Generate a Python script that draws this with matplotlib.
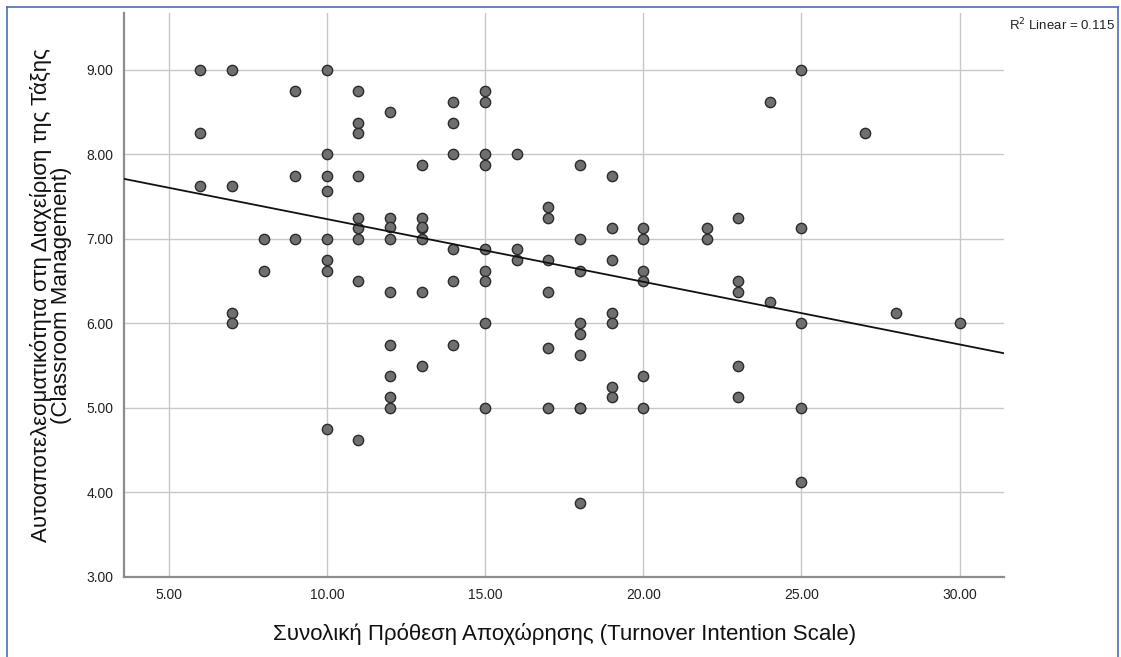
import numpy as np
import matplotlib
matplotlib.use("Agg")
import matplotlib.pyplot as plt
from matplotlib.lines import Line2D

# Turnover intention (x) vs classroom-management self-efficacy (y)
turnover = [6, 7, 10, 9, 11, 12, 11, 11, 6, 10,
            9, 10, 11, 6, 7, 10,
            11, 11, 11, 12, 12, 12, 8, 9, 10, 10, 10, 8, 11, 12,
            15, 15, 14, 14, 14, 15, 15, 16, 13, 18, 19, 17, 17, 13, 13, 13,
            13, 19, 20, 20, 22, 22, 18, 14, 15, 16, 16, 17, 19, 15, 18, 20,
            20, 15, 14, 13, 17,
            25, 24, 27, 23, 25, 23, 23, 24, 28, 25, 30, 23, 23, 25, 25,
            7, 7, 10, 11, 12, 12, 12, 12,
            15, 18, 18, 18, 19, 19, 14, 17, 13, 20, 19, 19, 15, 17, 18, 18, 20, 18]
efficacy = [9.0, 9.0, 9.0, 8.75, 8.75, 8.5, 8.375, 8.25, 8.25, 8.0,
            7.75, 7.75, 7.75, 7.625, 7.625, 7.57,
            7.25, 7.125, 7.0, 7.25, 7.14, 7.0, 7.0, 7.0, 7.0, 6.75, 6.625, 6.625, 6.5, 6.375,
            8.75, 8.625, 8.625, 8.375, 8.0, 8.0, 7.875, 8.0, 7.875, 7.875, 7.75, 7.375, 7.25, 7.25, 7.125, 7.14,
            7.0, 7.125, 7.125, 7.0, 7.125, 7.0, 7.0, 6.875, 6.875, 6.875, 6.75, 6.75, 6.75, 6.625, 6.625, 6.625,
            6.5, 6.5, 6.5, 6.375, 6.375,
            9.0, 8.625, 8.25, 7.25, 7.125, 6.5, 6.375, 6.25, 6.125, 6.0, 6.0, 5.5, 5.125, 5.0, 4.125,
            6.125, 6.0, 4.75, 4.625, 5.75, 5.375, 5.125, 5.0,
            6.0, 6.0, 5.875, 5.625, 6.125, 6.0, 5.75, 5.71, 5.5, 5.375, 5.25, 5.125, 5.0, 5.0, 5.0, 3.875, 5.0, 5.0]

# fit line as drawn by SPSS (some points overlap in the picture, so read it off directly)
fit_slope = -0.0742
fit_intercept = 7.977

xticks = [5, 10, 15, 20, 25, 30]
yticks = [3, 4, 5, 6, 7, 8, 9]

plt.rcParams['font.family'] = ['Liberation Sans', 'DejaVu Sans']

fig = plt.figure(figsize=(11.21, 6.57), dpi=100)
ax = fig.add_axes([0.1109, 0.1218, 0.7847, 0.858])

ax.scatter(turnover, efficacy, s=55, facecolor='#6f6f6f', edgecolor='#2b2b2b', linewidth=1.0, zorder=3)

xl = np.array([3.6, 31.4])
ax.plot(xl, fit_intercept + fit_slope * xl, color='#111111', lw=1.3, zorder=4)

ax.set_xlim(3.6, 31.4)
ax.set_ylim(3, 9.67)
ax.set_xticks(xticks)
ax.set_yticks(yticks)
ax.set_xticklabels([f"{v:.2f}" for v in xticks], fontsize=10, color='#222222')
ax.set_yticklabels([f"{v:.2f}" for v in yticks], fontsize=10, color='#222222')
ax.tick_params(length=0, pad=8)
ax.grid(True, color='#c8c8c8', lw=1.0)
ax.set_axisbelow(True)
for s in ['top', 'right']:
    ax.spines[s].set_visible(False)
for s in ['left', 'bottom']:
    ax.spines[s].set_color('#8c8c8c')
    ax.spines[s].set_linewidth(1.6)

ax.set_xlabel("Συνολική Πρόθεση Αποχώρησης (Turnover Intention Scale)", fontsize=16,
              color='#111111', labelpad=15)
ax.set_ylabel("Αυτοαποτελεσματικότητα στη Διαχείριση της Τάξης\n(Classroom Management)",
              fontsize=16, color='#111111', labelpad=10, linespacing=0.95)

fig.text(0.995, 0.962, r"R$^2$ Linear = 0.115", fontsize=9.5, ha='right', va='center', color='#222222')

# blue frame around the output
for xs, ys in [([0.0062, 0.0062], [0, 0.989]), ([0.0062, 0.9973], [0.989, 0.989]), ([0.9973, 0.9973], [0, 0.989])]:
    fig.add_artist(Line2D(xs, ys, color='#4a6fb5', lw=1.2, transform=fig.transFigure))

fig.savefig("out.png", dpi=100)
